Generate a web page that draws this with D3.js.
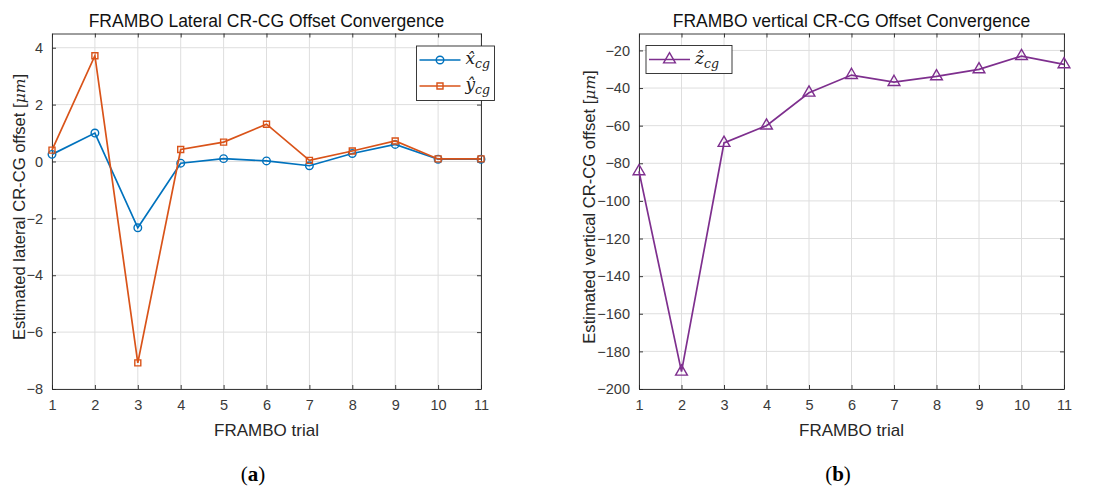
<!DOCTYPE html>
<html>
<head>
<meta charset="utf-8">
<script src="https://cdn.jsdelivr.net/npm/d3@7"></script>
<style>
  body { margin: 0; background: #fff; }
  svg text { font-family: "Liberation Sans", Arial, sans-serif; }
</style>
</head>
<body>
<svg id="canvas" width="1105" height="486"></svg>
<script>
const trials = [1, 2, 3, 4, 5, 6, 7, 8, 9, 10, 11];
const xHat = [0.25, 1.0, -2.33, -0.06, 0.1, 0.02, -0.15, 0.28, 0.6, 0.08, 0.08];
const yHat = [0.4, 3.72, -7.08, 0.42, 0.68, 1.31, 0.04, 0.37, 0.72, 0.09, 0.09];
const zHat = [-84.3, -190.8, -69.2, -60, -42.5, -33.1, -36.8, -33.8, -30.1, -23, -27.4];
const latTicks = [-8, -6, -4, -2, 0, 2, 4];
const vertTicks = [-200, -180, -160, -140, -120, -100, -80, -60, -40, -20];

const blue = "#0072BD", orange = "#D95319", purple = "#7E2F8E";
const axisCol = "#262626";

let svg = d3.select("#canvas");

let drawPanel = (opt) => {
  let x = d3.scaleLinear().domain([1, 11]).range([opt.left, opt.right]);
  let y = d3.scaleLinear().domain(opt.yDomain).range([389, 33.5]);
  let g = svg.append("g");

  // grid
  g.selectAll(".vgrid").data(trials).enter().append("line")
    .attr("x1", d => x(d)).attr("x2", d => x(d))
    .attr("y1", y.range()[1]).attr("y2", y.range()[0])
    .attr("stroke", "#dedede").attr("stroke-width", 1);
  g.selectAll(".hgrid").data(opt.ticks).enter().append("line")
    .attr("x1", opt.left).attr("x2", opt.right)
    .attr("y1", d => y(d)).attr("y2", d => y(d))
    .attr("stroke", "#dedede").attr("stroke-width", 1);

  // axes (inward ticks, box on)
  let bottom = d3.axisBottom(x).tickValues(trials).tickSizeInner(-4).tickSizeOuter(0).tickPadding(11);
  let top = d3.axisTop(x).tickValues(trials).tickSizeInner(-4).tickSizeOuter(0).tickFormat("");
  let leftAx = d3.axisLeft(y).tickValues(opt.ticks).tickSizeInner(-4).tickSizeOuter(0).tickPadding(9);
  let rightAx = d3.axisRight(y).tickValues(opt.ticks).tickSizeInner(-4).tickSizeOuter(0).tickFormat("");

  let styleAxis = (sel) => {
    sel.attr("font-size", null).attr("font-family", null);
    sel.selectAll("path").attr("stroke", axisCol).attr("stroke-width", 0.9);
    sel.selectAll("line").attr("stroke", axisCol).attr("stroke-width", 0.9);
    sel.selectAll("text").attr("fill", "#3a3a3a").style("font-size", "14.5px");
  };
  g.append("g").attr("transform", `translate(0,${y.range()[0]})`).call(bottom).call(styleAxis);
  g.append("g").attr("transform", `translate(0,${y.range()[1]})`).call(top).call(styleAxis);
  g.append("g").attr("transform", `translate(${opt.left},0)`).call(leftAx).call(styleAxis);
  g.append("g").attr("transform", `translate(${opt.right},0)`).call(rightAx).call(styleAxis);

  // series
  let line = d3.line().x((d, i) => x(trials[i])).y(d => y(d));
  opt.series.forEach((s) => {
    g.append("path").datum(s.values)
      .attr("d", line).attr("fill", "none")
      .attr("stroke", s.color).attr("stroke-width", 1.7);
    g.selectAll(null).data(s.values).enter().append("path")
      .attr("transform", (d, i) => `translate(${x(trials[i])},${y(d)})`)
      .attr("d", d3.symbol().type(s.symbol).size(s.size))
      .attr("fill", "none").attr("stroke", s.color).attr("stroke-width", 1.4);
  });

  // title and labels
  let cx = (opt.left + opt.right) / 2;
  g.append("text").attr("x", cx).attr("y", 27).attr("text-anchor", "middle")
    .attr("fill", "#111").style("font-size", "17.5px").text(opt.title);
  g.append("text").attr("x", cx).attr("y", 436).attr("text-anchor", "middle")
    .attr("fill", "#262626").style("font-size", "17px").text("FRAMBO trial");
  let yl = g.append("text")
    .attr("transform", `translate(${opt.ylabelX},207) rotate(-90)`)
    .attr("text-anchor", "middle").attr("fill", "#262626").style("font-size", "16.6px");
  yl.append("tspan").text(opt.ylabel + " [");
  yl.append("tspan").style("font-family", "'DejaVu Serif', serif").style("font-style", "italic")
    .style("font-size", "15.5px").text("μm");
  yl.append("tspan").text("]");

  // legend
  let lg = g.append("g");
  lg.append("rect").attr("x", opt.legend.x).attr("y", opt.legend.y)
    .attr("width", opt.legend.w).attr("height", opt.series.length * 26.5 + 1.5)
    .attr("fill", "#fff").attr("stroke", axisCol).attr("stroke-width", 0.9);
  opt.series.forEach((s, i) => {
    let ly = opt.legend.y + 14 + i * 26;
    let lx = opt.legend.x + 3;
    lg.append("line").attr("x1", lx).attr("x2", lx + 41).attr("y1", ly).attr("y2", ly)
      .attr("stroke", s.color).attr("stroke-width", 1.7);
    lg.append("path").attr("transform", `translate(${lx + 20.5},${ly})`)
      .attr("d", d3.symbol().type(s.symbol).size(s.size))
      .attr("fill", "none").attr("stroke", s.color).attr("stroke-width", 1.4);
    let t = lg.append("text").attr("x", lx + 46).attr("y", ly + 4)
      .style("font-family", "'DejaVu Serif', serif").style("font-style", "italic")
      .style("font-size", "17px").attr("fill", "#222");
    t.append("tspan").text(s.name + "\u0302");
    t.append("tspan").attr("dy", 4).style("font-size", "12.5px").text("cg");
  });
};

drawPanel({
  left: 52, right: 481, yDomain: [-8, 4.5], ticks: latTicks,
  title: "FRAMBO Lateral CR-CG Offset Convergence",
  ylabel: "Estimated lateral CR-CG offset", ylabelX: 25,
  legend: { x: 416.5, y: 46, w: 78 },
  series: [
    { name: "x", values: xHat, color: blue, symbol: d3.symbolCircle, size: 45 },
    { name: "y", values: yHat, color: orange, symbol: d3.symbolSquare, size: 36 }
  ]
});

drawPanel({
  left: 639, right: 1064, yDomain: [-200, -11], ticks: vertTicks,
  title: "FRAMBO vertical CR-CG Offset Convergence",
  ylabel: "Estimated vertical CR-CG offset", ylabelX: 595,
  legend: { x: 646, y: 45.5, w: 86 },
  series: [
    { name: "z", values: zHat, color: purple, symbol: d3.symbolTriangle, size: 60 }
  ]
});

// sub-figure captions
[["a", 253], ["b", 838]].forEach(([c, cx]) => {
  let t = svg.append("text").attr("x", cx).attr("y", 481).attr("text-anchor", "middle")
    .style("font-family", "'Liberation Serif', 'DejaVu Serif', serif").style("font-size", "21px")
    .attr("fill", "#000");
  t.append("tspan").text("(");
  t.append("tspan").style("font-weight", "bold").text(c);
  t.append("tspan").text(")");
});
</script>
</body>
</html>
